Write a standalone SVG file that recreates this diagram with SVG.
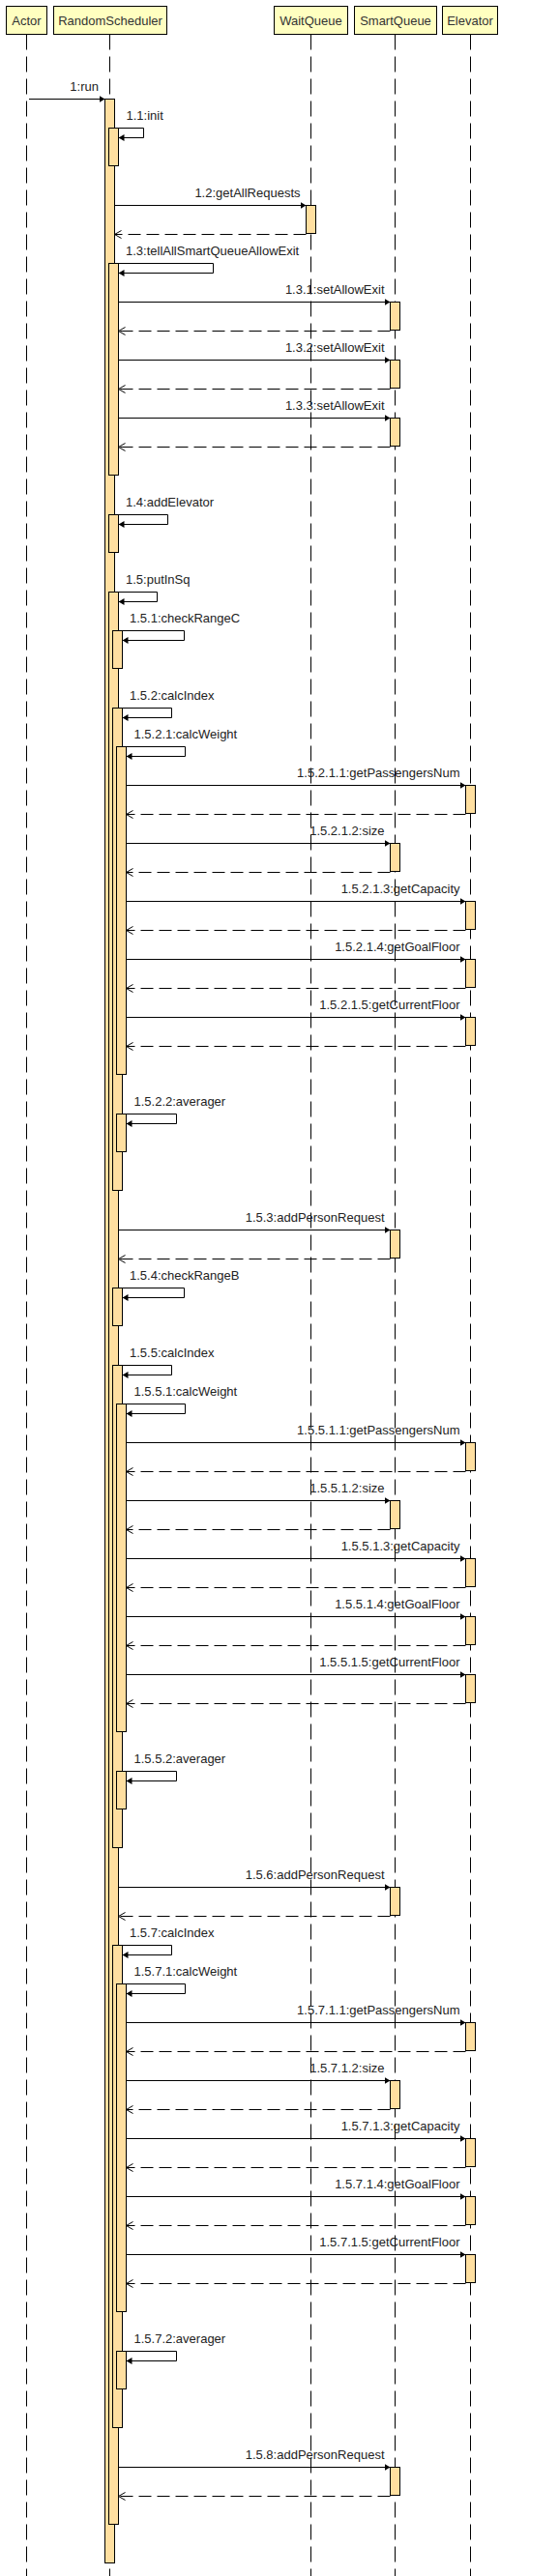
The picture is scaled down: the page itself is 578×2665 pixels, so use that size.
<svg xmlns="http://www.w3.org/2000/svg" width="578" height="2665" viewBox="0 0 578 2665">
<style>
.hd{fill:#ffffc0;stroke:#000;stroke-width:1}
.ht{font-family:"Liberation Sans",Arial,sans-serif;font-size:13px;fill:#333;text-anchor:middle}
.ll{stroke:#000;stroke-width:1;stroke-dasharray:16,7;fill:none}
.act{fill:#ffdfa0;stroke:#000;stroke-width:1}
.call{stroke:#000;stroke-width:1;fill:none;marker-end:url(#ah)}
.ret{stroke:#000;stroke-width:1;fill:none;stroke-dasharray:13,6;marker-end:url(#ro)}
.lb{font-family:"Liberation Sans",Arial,sans-serif;font-size:13px;fill:#222}
.le{font-family:"Liberation Sans",Arial,sans-serif;font-size:13px;fill:#222;text-anchor:end}
</style>
<defs>
<marker id="ah" markerWidth="6" markerHeight="7" refX="6" refY="3.5" orient="auto" markerUnits="userSpaceOnUse"><path d="M0,0 L6,3.5 L0,7 z" fill="#000"/></marker>
<marker id="ro" markerWidth="10" markerHeight="10" refX="8" refY="5" orient="auto" markerUnits="userSpaceOnUse"><path d="M1,1 L8,5 L1,9" fill="none" stroke="#000" stroke-width="1"/></marker>
</defs>
<rect width="578" height="2665" fill="#fff"/>

<g id="actor">
<line class="ll" x1="27.5" y1="35.5" x2="27.5" y2="2665"/>
<rect class="hd" x="6.5" y="6.5" width="42" height="29"/>
<text class="ht" x="27.5" y="26">Actor</text>
</g>

<g id="randomScheduler">
<line class="ll" x1="113.5" y1="35.5" x2="113.5" y2="2665"/>
<rect class="hd" x="55.5" y="6.5" width="117" height="29"/>
<text class="ht" x="114" y="26">RandomScheduler</text>
<rect class="act" x="108.5" y="102.5" width="10" height="2549"/>
<rect class="act" x="112.5" y="132.5" width="10" height="39"/>
<rect class="act" x="112.5" y="272.5" width="10" height="219"/>
<rect class="act" x="112.5" y="532.5" width="10" height="39"/>
<rect class="act" x="112.5" y="612.5" width="10" height="1999"/>
<rect class="act" x="116.5" y="652.5" width="10" height="39"/>
<rect class="act" x="116.5" y="732.5" width="10" height="499"/>
<rect class="act" x="116.5" y="1332.5" width="10" height="39"/>
<rect class="act" x="116.5" y="1412.5" width="10" height="499"/>
<rect class="act" x="116.5" y="2012.5" width="10" height="499"/>
<rect class="act" x="120.5" y="772.5" width="10" height="339"/>
<rect class="act" x="120.5" y="1152.5" width="10" height="39"/>
<rect class="act" x="120.5" y="1452.5" width="10" height="339"/>
<rect class="act" x="120.5" y="1832.5" width="10" height="39"/>
<rect class="act" x="120.5" y="2052.5" width="10" height="339"/>
<rect class="act" x="120.5" y="2432.5" width="10" height="39"/>
</g>

<g id="waitQueue">
<line class="ll" x1="321.5" y1="35.5" x2="321.5" y2="2665"/>
<rect class="hd" x="283.5" y="6.5" width="76" height="29"/>
<text class="ht" x="321.5" y="26">WaitQueue</text>
<rect class="act" x="316.5" y="212.5" width="10" height="29"/>
</g>

<g id="smartQueue">
<line class="ll" x1="408.5" y1="35.5" x2="408.5" y2="2665"/>
<rect class="hd" x="366.5" y="6.5" width="85" height="29"/>
<text class="ht" x="409" y="26">SmartQueue</text>
<rect class="act" x="403.5" y="312.5" width="10" height="29"/>
<rect class="act" x="403.5" y="372.5" width="10" height="29"/>
<rect class="act" x="403.5" y="432.5" width="10" height="29"/>
<rect class="act" x="403.5" y="872.5" width="10" height="29"/>
<rect class="act" x="403.5" y="1272.5" width="10" height="29"/>
<rect class="act" x="403.5" y="1552.5" width="10" height="29"/>
<rect class="act" x="403.5" y="1952.5" width="10" height="29"/>
<rect class="act" x="403.5" y="2152.5" width="10" height="29"/>
<rect class="act" x="403.5" y="2552.5" width="10" height="29"/>
</g>

<g id="elevator">
<line class="ll" x1="486.5" y1="35.5" x2="486.5" y2="2665"/>
<rect class="hd" x="457.5" y="6.5" width="57" height="29"/>
<text class="ht" x="486" y="26">Elevator</text>
<rect class="act" x="481.5" y="812.5" width="10" height="29"/>
<rect class="act" x="481.5" y="932.5" width="10" height="29"/>
<rect class="act" x="481.5" y="992.5" width="10" height="29"/>
<rect class="act" x="481.5" y="1052.5" width="10" height="29"/>
<rect class="act" x="481.5" y="1492.5" width="10" height="29"/>
<rect class="act" x="481.5" y="1612.5" width="10" height="29"/>
<rect class="act" x="481.5" y="1672.5" width="10" height="29"/>
<rect class="act" x="481.5" y="1732.5" width="10" height="29"/>
<rect class="act" x="481.5" y="2092.5" width="10" height="29"/>
<rect class="act" x="481.5" y="2212.5" width="10" height="29"/>
<rect class="act" x="481.5" y="2272.5" width="10" height="29"/>
<rect class="act" x="481.5" y="2332.5" width="10" height="29"/>
</g>

<g id="connectors">
<line class="call" x1="30" y1="102.5" x2="108.5" y2="102.5"/><text class="le" x="102" y="94">1:run</text>
<polyline class="call" points="122.5,132.5 148.5,132.5 148.5,142.5 122.5,142.5"/><text class="lb" x="130.5" y="123.5">1.1:init</text>
<line class="call" x1="118.5" y1="212.5" x2="316.5" y2="212.5"/><text class="le" x="310.5" y="204">1.2:getAllRequests</text>
<line class="ret" x1="316.5" y1="242.5" x2="118.5" y2="242.5"/>
<polyline class="call" points="122.5,272.5 220.5,272.5 220.5,282.5 122.5,282.5"/><text class="lb" x="130" y="263.5">1.3:tellAllSmartQueueAllowExit</text>
<line class="call" x1="122.5" y1="312.5" x2="403.5" y2="312.5"/><text class="le" x="397.5" y="304">1.3.1:setAllowExit</text>
<line class="ret" x1="403.5" y1="342.5" x2="122.5" y2="342.5"/>
<line class="call" x1="122.5" y1="372.5" x2="403.5" y2="372.5"/><text class="le" x="397.5" y="364">1.3.2:setAllowExit</text>
<line class="ret" x1="403.5" y1="402.5" x2="122.5" y2="402.5"/>
<line class="call" x1="122.5" y1="432.5" x2="403.5" y2="432.5"/><text class="le" x="397.5" y="424">1.3.3:setAllowExit</text>
<line class="ret" x1="403.5" y1="462.5" x2="122.5" y2="462.5"/>
<polyline class="call" points="122.5,532.5 173.5,532.5 173.5,542.5 122.5,542.5"/><text class="lb" x="130" y="523.5">1.4:addElevator</text>
<polyline class="call" points="122.5,612.5 162.5,612.5 162.5,622.5 122.5,622.5"/><text class="lb" x="130" y="603.5">1.5:putInSq</text>
<polyline class="call" points="126.5,652.5 190.5,652.5 190.5,662.5 126.5,662.5"/><text class="lb" x="134" y="643.5">1.5.1:checkRangeC</text>
<polyline class="call" points="126.5,732.5 177.5,732.5 177.5,742.5 126.5,742.5"/><text class="lb" x="134" y="723.5">1.5.2:calcIndex</text>
<polyline class="call" points="130.5,772.5 191.5,772.5 191.5,782.5 130.5,782.5"/><text class="lb" x="138.5" y="763.5">1.5.2.1:calcWeight</text>
<line class="call" x1="130.5" y1="812.5" x2="481.5" y2="812.5"/><text class="le" x="475.5" y="804">1.5.2.1.1:getPassengersNum</text>
<line class="ret" x1="481.5" y1="842.5" x2="130.5" y2="842.5"/>
<line class="call" x1="130.5" y1="872.5" x2="403.5" y2="872.5"/><text class="le" x="397.5" y="864">1.5.2.1.2:size</text>
<line class="ret" x1="403.5" y1="902.5" x2="130.5" y2="902.5"/>
<line class="call" x1="130.5" y1="932.5" x2="481.5" y2="932.5"/><text class="le" x="475.5" y="924">1.5.2.1.3:getCapacity</text>
<line class="ret" x1="481.5" y1="962.5" x2="130.5" y2="962.5"/>
<line class="call" x1="130.5" y1="992.5" x2="481.5" y2="992.5"/><text class="le" x="475.5" y="984">1.5.2.1.4:getGoalFloor</text>
<line class="ret" x1="481.5" y1="1022.5" x2="130.5" y2="1022.5"/>
<line class="call" x1="130.5" y1="1052.5" x2="481.5" y2="1052.5"/><text class="le" x="475.5" y="1044">1.5.2.1.5:getCurrentFloor</text>
<line class="ret" x1="481.5" y1="1082.5" x2="130.5" y2="1082.5"/>
<polyline class="call" points="130.5,1152.5 182.5,1152.5 182.5,1162.5 130.5,1162.5"/><text class="lb" x="138.5" y="1143.5">1.5.2.2:averager</text>
<line class="call" x1="122.5" y1="1272.5" x2="403.5" y2="1272.5"/><text class="le" x="397.5" y="1264">1.5.3:addPersonRequest</text>
<line class="ret" x1="403.5" y1="1302.5" x2="122.5" y2="1302.5"/>
<polyline class="call" points="126.5,1332.5 190.5,1332.5 190.5,1342.5 126.5,1342.5"/><text class="lb" x="134" y="1323.5">1.5.4:checkRangeB</text>
<polyline class="call" points="126.5,1412.5 177.5,1412.5 177.5,1422.5 126.5,1422.5"/><text class="lb" x="134" y="1403.5">1.5.5:calcIndex</text>
<polyline class="call" points="130.5,1452.5 191.5,1452.5 191.5,1462.5 130.5,1462.5"/><text class="lb" x="138.5" y="1443.5">1.5.5.1:calcWeight</text>
<line class="call" x1="130.5" y1="1492.5" x2="481.5" y2="1492.5"/><text class="le" x="475.5" y="1484">1.5.5.1.1:getPassengersNum</text>
<line class="ret" x1="481.5" y1="1522.5" x2="130.5" y2="1522.5"/>
<line class="call" x1="130.5" y1="1552.5" x2="403.5" y2="1552.5"/><text class="le" x="397.5" y="1544">1.5.5.1.2:size</text>
<line class="ret" x1="403.5" y1="1582.5" x2="130.5" y2="1582.5"/>
<line class="call" x1="130.5" y1="1612.5" x2="481.5" y2="1612.5"/><text class="le" x="475.5" y="1604">1.5.5.1.3:getCapacity</text>
<line class="ret" x1="481.5" y1="1642.5" x2="130.5" y2="1642.5"/>
<line class="call" x1="130.5" y1="1672.5" x2="481.5" y2="1672.5"/><text class="le" x="475.5" y="1664">1.5.5.1.4:getGoalFloor</text>
<line class="ret" x1="481.5" y1="1702.5" x2="130.5" y2="1702.5"/>
<line class="call" x1="130.5" y1="1732.5" x2="481.5" y2="1732.5"/><text class="le" x="475.5" y="1724">1.5.5.1.5:getCurrentFloor</text>
<line class="ret" x1="481.5" y1="1762.5" x2="130.5" y2="1762.5"/>
<polyline class="call" points="130.5,1832.5 182.5,1832.5 182.5,1842.5 130.5,1842.5"/><text class="lb" x="138.5" y="1823.5">1.5.5.2:averager</text>
<line class="call" x1="122.5" y1="1952.5" x2="403.5" y2="1952.5"/><text class="le" x="397.5" y="1944">1.5.6:addPersonRequest</text>
<line class="ret" x1="403.5" y1="1982.5" x2="122.5" y2="1982.5"/>
<polyline class="call" points="126.5,2012.5 177.5,2012.5 177.5,2022.5 126.5,2022.5"/><text class="lb" x="134" y="2003.5">1.5.7:calcIndex</text>
<polyline class="call" points="130.5,2052.5 191.5,2052.5 191.5,2062.5 130.5,2062.5"/><text class="lb" x="138.5" y="2043.5">1.5.7.1:calcWeight</text>
<line class="call" x1="130.5" y1="2092.5" x2="481.5" y2="2092.5"/><text class="le" x="475.5" y="2084">1.5.7.1.1:getPassengersNum</text>
<line class="ret" x1="481.5" y1="2122.5" x2="130.5" y2="2122.5"/>
<line class="call" x1="130.5" y1="2152.5" x2="403.5" y2="2152.5"/><text class="le" x="397.5" y="2144">1.5.7.1.2:size</text>
<line class="ret" x1="403.5" y1="2182.5" x2="130.5" y2="2182.5"/>
<line class="call" x1="130.5" y1="2212.5" x2="481.5" y2="2212.5"/><text class="le" x="475.5" y="2204">1.5.7.1.3:getCapacity</text>
<line class="ret" x1="481.5" y1="2242.5" x2="130.5" y2="2242.5"/>
<line class="call" x1="130.5" y1="2272.5" x2="481.5" y2="2272.5"/><text class="le" x="475.5" y="2264">1.5.7.1.4:getGoalFloor</text>
<line class="ret" x1="481.5" y1="2302.5" x2="130.5" y2="2302.5"/>
<line class="call" x1="130.5" y1="2332.5" x2="481.5" y2="2332.5"/><text class="le" x="475.5" y="2324">1.5.7.1.5:getCurrentFloor</text>
<line class="ret" x1="481.5" y1="2362.5" x2="130.5" y2="2362.5"/>
<polyline class="call" points="130.5,2432.5 182.5,2432.5 182.5,2442.5 130.5,2442.5"/><text class="lb" x="138.5" y="2423.5">1.5.7.2:averager</text>
<line class="call" x1="122.5" y1="2552.5" x2="403.5" y2="2552.5"/><text class="le" x="397.5" y="2544">1.5.8:addPersonRequest</text>
<line class="ret" x1="403.5" y1="2582.5" x2="122.5" y2="2582.5"/>
</g>
</svg>
